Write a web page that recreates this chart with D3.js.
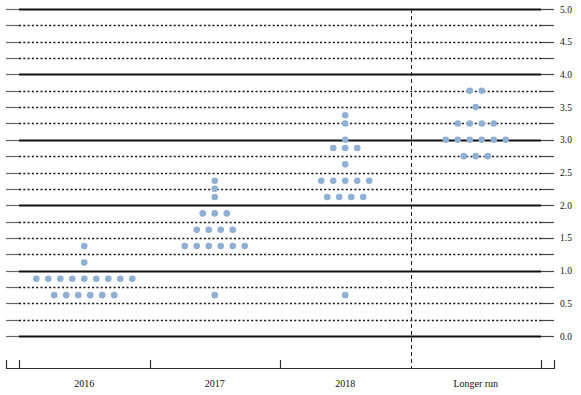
<!DOCTYPE html>
<html><head><meta charset="utf-8">
<script src="https://cdn.jsdelivr.net/npm/d3@7"></script>
<style>body{margin:0;background:#fff}svg{display:block}</style>
</head><body>
<svg id="c" width="581" height="395"></svg>
<script>
const categories = ["2016","2017","2018","Longer run"];
// projections: [value, count]
const dots2016 = [[0.625,6],[0.875,9],[1.125,1],[1.375,1]];
const dots2017 = [[0.625,1],[1.375,6],[1.625,4],[1.875,3],[2.125,1],[2.25,1],[2.375,1]];
const dots2018 = [[0.625,1],[2.125,4],[2.375,5],[2.625,1],[2.875,3],[3.0,1],[3.25,1],[3.375,1]];
const dotsLonger = [[2.75,3],[3.0,6],[3.25,4],[3.5,1],[3.75,2]];
const tickLabels = ["0.0","0.5","1.0","1.5","2.0","2.5","3.0","3.5","4.0","4.5","5.0"];
const gridValues = d3.range(0, 5.001, 0.25);

const svg = d3.select("#c");
const y = d3.scaleLinear().domain([0,5]).range([336,9]);
const x = d3.scaleBand().domain(categories).range([19,541]).padding(0);
const x0 = 6, x1 = 554;

// gridlines
svg.append("g").selectAll("line").data(gridValues).join("line")
  .attr("x1", 19).attr("x2", 541)
  .attr("y1", d => Math.round(y(d))+0.5).attr("y2", d => Math.round(y(d))+0.5)
  .attr("stroke", "#111")
  .attr("stroke-width", d => Math.abs(d - Math.round(d)) < 1e-9 ? 2 : 1.3)
  .attr("stroke-dasharray", d => Math.abs(d - Math.round(d)) < 1e-9 ? null : "2,2.3");

// side ticks
const ticksG = svg.append("g");
ticksG.selectAll("line.l").data(gridValues).join("line").attr("class","l")
  .attr("x1", x0).attr("x2", 19)
  .attr("y1", d => Math.round(y(d))+0.5).attr("y2", d => Math.round(y(d))+0.5)
  .attr("stroke", "#666").attr("stroke-width", 1.2);
ticksG.selectAll("line.r").data(gridValues).join("line").attr("class","r")
  .attr("x1", 541).attr("x2", x1)
  .attr("y1", d => Math.round(y(d))+0.5).attr("y2", d => Math.round(y(d))+0.5)
  .attr("stroke", "#444").attr("stroke-width", 1.2);

// right labels
svg.append("g").selectAll("text").data(tickLabels).join("text")
  .attr("x", 560).attr("y", d => y(+d) + 3.5)
  .attr("font-family", "Liberation Serif, DejaVu Serif, serif")
  .attr("font-size", 9.5).attr("fill", "#111")
  .text(d => d);

// bottom axis
const by = 368;
svg.append("line").attr("x1", x0).attr("x2", x1).attr("y1", by+0.5).attr("y2", by+0.5)
  .attr("stroke", "#333").attr("stroke-width", 1.2);
const bticks = [x0, x1].concat(categories.filter(c => c !== "Longer run").map(c => x(c)), [x.range()[1]]);
svg.append("g").selectAll("line").data(bticks).join("line")
  .attr("x1", d => Math.round(d)+0.5).attr("x2", d => Math.round(d)+0.5)
  .attr("y1", by-8).attr("y2", by+1)
  .attr("stroke", "#333").attr("stroke-width", 1.2);

// dashed divider
const dx = x("Longer run");
svg.append("line").attr("x1", Math.round(dx)+0.5).attr("x2", Math.round(dx)+0.5)
  .attr("y1", 9).attr("y2", by)
  .attr("stroke", "#222").attr("stroke-width", 1).attr("stroke-dasharray", "4,3");

// category labels
svg.append("g").selectAll("text").data(categories).join("text")
  .attr("x", d => x(d) + x.bandwidth()/2).attr("y", 387)
  .attr("text-anchor", "middle")
  .attr("font-family", "Liberation Serif, DejaVu Serif, serif")
  .attr("font-size", 10).attr("fill", "#111")
  .text(d => d);

// dots
const allDots = [dots2016, dots2017, dots2018, dotsLonger];
const pts = [];
allDots.forEach((arr, ci) => {
  const cx = x(categories[ci]) + x.bandwidth()/2;
  arr.forEach(([v, n]) => {
    for (let i = 0; i < n; i++) pts.push({x: cx + (i - (n-1)/2) * 12, v});
  });
});
svg.append("g").selectAll("circle").data(pts).join("circle")
  .attr("cx", d => d.x).attr("cy", d => y(d.v))
  .attr("r", 3.3).attr("fill", "#8fb0d4");
</script>
</body></html>
